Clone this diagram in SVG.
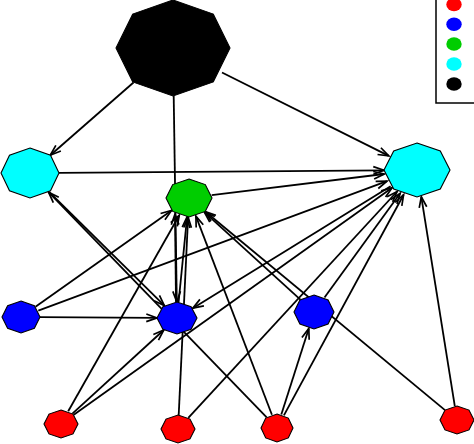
<svg xmlns="http://www.w3.org/2000/svg" width="474" height="444" viewBox="0 0 474 444">
<style>
.e{stroke:#000;stroke-width:1.8;fill:none;marker-end:url(#arr)}
.n{stroke:#000;stroke-width:1.1}
.red{fill:#FF0000}.blue{fill:#0000FF}.green{fill:#00CD00}.cyan{fill:#00FFFF}.black{fill:#000}
</style>
<defs>
<marker id="arr" markerUnits="userSpaceOnUse" markerWidth="12" markerHeight="10" viewBox="0 0 12 8" refX="11" refY="4" orient="auto" overflow="visible">
<path d="M0.3,0.2 L11,4 L0.3,7.8" fill="none" stroke="#000" stroke-width="1.7"/>
</marker>
</defs>
<rect width="474" height="444" fill="#fff"/>
<g id="connectors">
<line class="e" x1="133.5" y1="82.5" x2="50.3" y2="155.2"/>
<line class="e" x1="222" y1="72.5" x2="388.8" y2="155.9"/>
<line class="e" x1="173.7" y1="96" x2="176.8" y2="302"/>
<line class="e" x1="59" y1="172.8" x2="384" y2="170.3"/>
<line class="e" x1="211.7" y1="195.2" x2="384.3" y2="174"/>
<line class="e" x1="35.5" y1="306.7" x2="171.5" y2="210.4"/>
<line class="e" x1="38.3" y1="310.6" x2="387" y2="181.2"/>
<line class="e" x1="40" y1="317.1" x2="157" y2="317.9"/>
<line class="e" x1="49.1" y1="191.8" x2="164.4" y2="305.6"/>
<line class="e" x1="266.7" y1="417.3" x2="48.6" y2="192.2"/>
<line class="e" x1="176" y1="302" x2="175" y2="214"/>
<line class="e" x1="178.6" y1="302" x2="187.1" y2="216.9"/>
<line class="e" x1="178.7" y1="415" x2="188.1" y2="217"/>
<line class="e" x1="68.2" y1="411.3" x2="179.3" y2="215.2"/>
<line class="e" x1="271.9" y1="414.7" x2="195.9" y2="216.1"/>
<line class="e" x1="300.4" y1="299.6" x2="204.4" y2="212.1"/>
<line class="e" x1="445" y1="410.1" x2="205.2" y2="211.5"/>
<line class="e" x1="390.6" y1="186.2" x2="192.8" y2="308.2"/>
<line class="e" x1="72.4" y1="413.6" x2="163.8" y2="330"/>
<line class="e" x1="73.8" y1="414.8" x2="392.1" y2="187.7"/>
<line class="e" x1="188.3" y1="417.8" x2="397.1" y2="191.5"/>
<line class="e" x1="281.3" y1="414.5" x2="308.8" y2="328.4"/>
<line class="e" x1="283.9" y1="415.4" x2="403.6" y2="194.7"/>
<line class="e" x1="324.5" y1="297.5" x2="400.2" y2="193.2"/>
<line class="e" x1="454.8" y1="406.1" x2="421.3" y2="196.8"/>
</g>
<g id="node-black"><polygon class="n black" points="173,0 213.3,14.1 230,48 213.3,81.9 173,96 132.7,81.9 116,48 132.7,14.1"/></g>
<g id="node-cyan-left"><polygon class="n cyan" points="30,148 50.5,155.3 59,173 50.5,190.7 30,198 9.5,190.7 1,173 9.5,155.3"/></g>
<g id="node-cyan-right"><polygon class="n cyan" points="417,143 440.3,150.9 450,170 440.3,189.1 417,197 393.7,189.1 384,170 393.7,150.9"/></g>
<g id="node-green"><polygon class="n green" points="189,179 205.3,184.6 212,198 205.3,211.4 189,217 172.7,211.4 166,198 172.7,184.6"/></g>
<g id="node-blue-left"><polygon class="n blue" points="21,301 34.4,305.7 40,317 34.4,328.3 21,333 7.6,328.3 2,317 7.6,305.7"/></g>
<g id="node-blue-mid"><polygon class="n blue" points="177,302 191.1,306.7 197,318 191.1,329.3 177,334 162.9,329.3 157,318 162.9,306.7"/></g>
<g id="node-blue-right"><polygon class="n blue" points="314,295 328.1,300 334,312 328.1,324 314,329 299.9,324 294,312 299.9,300"/></g>
<g id="node-red-1"><polygon class="n red" points="61,410 73,414.1 78,424 73,433.9 61,438 49,433.9 44,424 49,414.1"/></g>
<g id="node-red-2"><polygon class="n red" points="178,415 190,419.1 195,429 190,438.9 178,443 166,438.9 161,429 166,419.1"/></g>
<g id="node-red-3"><polygon class="n red" points="277,414 288.3,418.1 293,428 288.3,437.9 277,442 265.7,437.9 261,428 265.7,418.1"/></g>
<g id="node-red-4"><polygon class="n red" points="457,406 469,410.1 474,420 469,429.9 457,434 445,429.9 440,420 445,410.1"/></g>
<g id="legend">
<rect x="436" y="-2" width="50" height="105" fill="#fff" stroke="#000" stroke-width="1.5"/>
<ellipse class="red" cx="454" cy="4.5" rx="7.7" ry="6.8"/>
<ellipse class="blue" cx="454" cy="24.3" rx="7.7" ry="6.8"/>
<ellipse class="green" cx="454" cy="44" rx="7.7" ry="6.8"/>
<ellipse class="cyan" cx="454" cy="64" rx="7.7" ry="6.8"/>
<ellipse class="black" cx="454" cy="84" rx="7.7" ry="6.8"/>
</g>
</svg>
